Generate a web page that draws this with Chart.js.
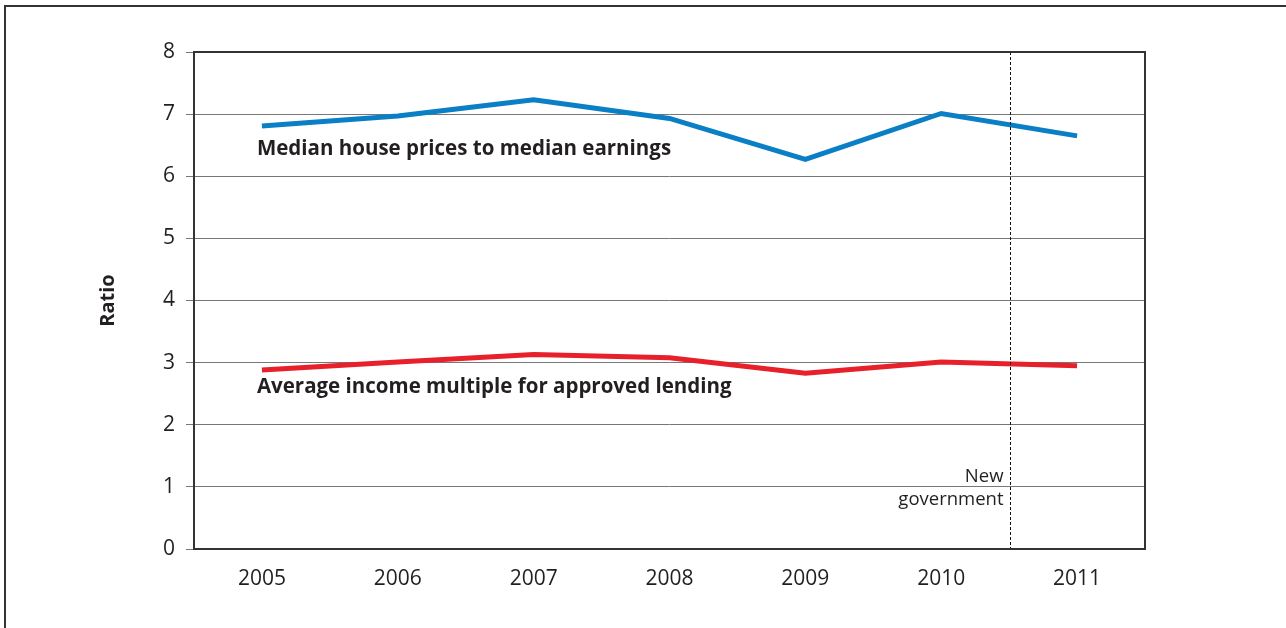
<!DOCTYPE html>
<html>
<head>
<meta charset="utf-8">
<script src="https://cdn.jsdelivr.net/npm/chart.js@4.4.0/dist/chart.umd.min.js"></script>
<style>
  html, body { margin: 0; padding: 0; background: #ffffff; }
  #wrap { width: 1286px; height: 628px; position: relative; }
</style>
</head>
<body>
<div id="wrap"><canvas id="c" width="1286" height="628"></canvas></div>
<script>
const categories = ['2005', '2006', '2007', '2008', '2009', '2010', '2011'];
const houseToEarnings = [6.81, 6.97, 7.23, 6.93, 6.27, 7.01, 6.65];
const incomeMultiple = [2.88, 3.01, 3.13, 3.08, 2.83, 3.01, 2.95];
const yTicks = [0, 1, 2, 3, 4, 5, 6, 7, 8];
const seriesNames = ['Median house prices to median earnings', 'Average income multiple for approved lending'];
const annotationText = ['New', 'government'];
const axisTitle = 'Ratio';

const FONT = "'Open Sans', 'DejaVu Sans', sans-serif";
const TEXT = '#231f20';

const decorPlugin = {
  id: 'decor',
  beforeDraw(chart) {
    const ctx = chart.ctx;
    ctx.save();
    ctx.fillStyle = '#ffffff';
    ctx.fillRect(0, 0, chart.width, chart.height);
    ctx.strokeStyle = '#333333';
    ctx.lineWidth = 2;
    ctx.strokeRect(5, 6, chart.width + 20, chart.height + 20);
    ctx.restore();
  },
  afterDatasetsDraw(chart) {
    const ctx = chart.ctx;
    const xs = chart.scales.x, ys = chart.scales.y;
    const a = chart.chartArea;
    ctx.save();
    // dashed "new government" marker between 2010 and 2011
    const xd = Math.round((xs.getPixelForValue(5) + xs.getPixelForValue(6)) / 2) + 1.5;
    ctx.strokeStyle = '#111111';
    ctx.lineWidth = 1;
    ctx.setLineDash([3, 2]);
    ctx.beginPath();
    ctx.moveTo(xd, a.top);
    ctx.lineTo(xd, a.bottom);
    ctx.stroke();
    ctx.setLineDash([]);
    // plot frame
    ctx.strokeStyle = '#333333';
    ctx.lineWidth = 2;
    ctx.strokeRect(a.left, a.top, a.right - a.left, a.bottom - a.top);
    // annotation text
    ctx.fillStyle = TEXT;
    ctx.textAlign = 'right';
    ctx.textBaseline = 'middle';
    ctx.font = '18.5px ' + FONT;
    ctx.fillText(annotationText[0], xd - 7, ys.getPixelForValue(1.17));
    ctx.fillText(annotationText[1], xd - 7, ys.getPixelForValue(0.8));
    // series labels
    ctx.textAlign = 'left';
    ctx.font = 'bold 20.5px ' + FONT;
    const lx = xs.getPixelForValue(0) - 5;
    ctx.fillText(seriesNames[0], lx, ys.getPixelForValue(6.44));
    ctx.fillText(seriesNames[1], lx, ys.getPixelForValue(2.61));
    ctx.restore();
  }
};

new Chart(document.getElementById('c'), {
  type: 'line',
  data: {
    labels: categories,
    datasets: [
      { label: seriesNames[0], data: houseToEarnings, borderColor: '#0a7fc6', borderWidth: 5, pointRadius: 0, tension: 0, fill: false },
      { label: seriesNames[1], data: incomeMultiple, borderColor: '#e8202a', borderWidth: 5, pointRadius: 0, tension: 0, fill: false }
    ]
  },
  options: {
    responsive: false,
    animation: false,
    devicePixelRatio: 1,
    layout: { padding: { left: 92, top: 52, right: 141, bottom: 0 } },
    plugins: { legend: { display: false }, tooltip: { enabled: false } },
    scales: {
      x: {
        offset: true,
        grid: { display: false, drawTicks: false },
        border: { display: false },
        ticks: { color: TEXT, font: { family: FONT, size: 21 }, padding: 17, maxRotation: 0 },
        afterFit(s) { s.height = 79; }
      },
      y: {
        min: 0, max: 8,
        afterBuildTicks(s) { s.ticks = yTicks.map(v => ({ value: v })); },
        grid: { color: '#777777', lineWidth: 1, tickLength: 8, tickColor: '#777777' },
        border: { display: false },
        ticks: { color: TEXT, font: { family: FONT, size: 21 }, padding: 11 },
        title: { display: true, text: axisTitle, color: TEXT, font: { family: FONT, size: 20, weight: 'bold' } },
        afterFit(s) { s.width = 102; }
      }
    }
  },
  plugins: [decorPlugin]
});
</script>
</body>
</html>
